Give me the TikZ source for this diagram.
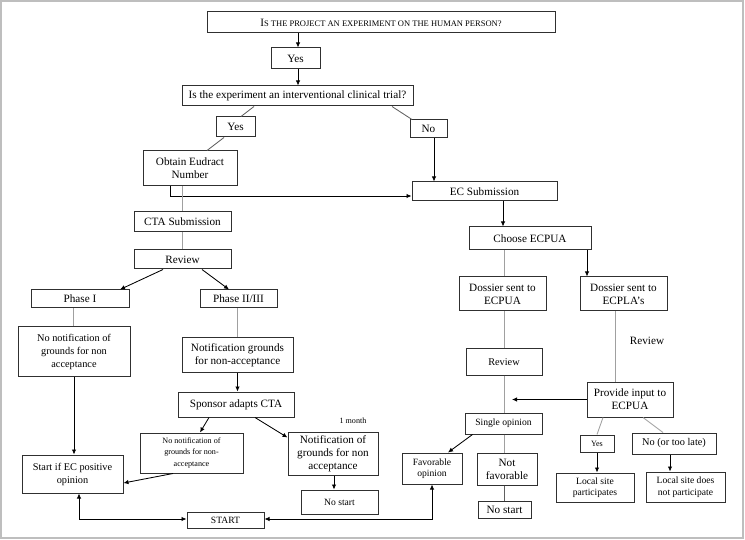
\documentclass[tikz,border=0pt]{standalone}
\usepackage{fontspec}
\setmainfont{Liberation Serif}
\usetikzlibrary{arrows.meta,calc}
\definecolor{boxc}{HTML}{303030}
\definecolor{lnc}{HTML}{A0A0A0}
\definecolor{dlnc}{HTML}{606060}
\definecolor{frm}{HTML}{BEBEBE}
\newcommand\flowbox[7]{\node[box,#6,minimum width={#4-#2},minimum height={#5-#3}] (#1) at ({(#2+#4)/2},{(#3+#5)/2}) {#7};}
\tikzset{
  fA/.style={font=\fontsize{11.2}{13}\selectfont},
  fB/.style={font=\fontsize{10.3}{13}\selectfont},
  fC/.style={font=\fontsize{9.6}{11.5}\selectfont},
  fD/.style={font=\fontsize{8.1}{11.5}\selectfont},
  box/.style={draw=boxc, line width=1pt, inner sep=0pt, align=center, fA},
  arr/.style={-{Latex[length=5pt,width=4.5pt]}, line width=0.85pt, black},
  arrtwo/.style={{Latex[length=5pt,width=4.5pt]}-{Latex[length=5pt,width=4.5pt]}, line width=0.85pt, black},
  ln/.style={line width=0.85pt, lnc},
  dln/.style={line width=0.85pt, dlnc}
}
\begin{document}
\begin{tikzpicture}[x=1pt,y=-1pt]
\useasboundingbox (0,0) rectangle (745,540);
\draw[frm, line width=2pt] (1,1) rectangle (743,538);
% nodes
\flowbox{q1}{207}{12}{555}{33}{}{{\fontsize{11.2}{13}\selectfont I}{\fontsize{8.5}{10}\selectfont S THE PROJECT AN EXPERIMENT ON THE HUMAN PERSON?}}
\flowbox{yes1}{271}{48}{320}{69}{}{Yes}
\flowbox{q2}{182}{86}{413}{106}{}{Is the experiment an interventional clinical trial?}
\flowbox{yes2}{216}{117}{255}{137}{}{Yes}
\flowbox{no}{410}{120}{447}{138}{}{No}
\flowbox{eud}{143}{151}{237}{186}{}{Obtain Eudract\\Number}
\flowbox{ecs}{412}{182}{557}{201}{}{EC Submission}
\flowbox{cta}{134}{212}{231}{232}{}{CTA Submission}
\flowbox{rev1}{134}{250}{231}{269}{}{Review}
\flowbox{cho}{469}{227}{591}{250}{}{Choose ECPUA}
\flowbox{ph1}{31}{290}{129}{308}{}{Phase I}
\flowbox{ph2}{200}{290}{277}{308}{}{Phase II/III}
\flowbox{dosu}{459}{277}{546}{311}{}{Dossier sent to\\ECPUA}
\flowbox{dosl}{580}{277}{667}{311}{}{Dossier sent to\\ECPLA’s}
\flowbox{nn1}{18}{327}{130}{376}{fB}{No notification of\\grounds for non\\acceptance}
\flowbox{ng1}{182}{338}{293}{372}{}{Notification grounds\\for non-acceptance}
\flowbox{rev2}{466}{349}{542}{375}{fB}{Review}
\node[fA] (revl) at (647,341) {Review};
\flowbox{spo}{178}{392}{294}{417}{}{Sponsor adapts CTA}
\flowbox{pro}{587}{382}{673}{417}{}{Provide input to\\ECPUA}
\flowbox{sin}{465}{413}{542}{434}{fC}{Single opinion}
\node[fD] (mon) at (353,421) {1 month};
\flowbox{nn2}{140}{433}{243}{473}{fD}{No notification of\\grounds for non-\\acceptance}
\flowbox{ng2}{288}{432}{378}{475}{}{Notification of\\grounds for non\\acceptance}
\flowbox{sif}{22}{455}{123}{493}{fB}{Start if EC positive\\opinion}
\flowbox{fav}{402}{453}{462}{484}{fC}{Favorable\\opinion}
\flowbox{nfav}{477}{453}{537}{485}{fA}{Not\\favorable}
\flowbox{yes3}{580}{435}{614}{452}{fD}{Yes}
\flowbox{nol}{632}{433}{716}{454}{fB}{No (or too late)}
\flowbox{lyes}{556}{473}{634}{502}{fC}{Local site\\participates}
\flowbox{lno}{646}{472}{725}{502}{fC}{Local site does\\not participate}
\flowbox{ns2}{478}{501}{531}{518}{fA}{No start}
\flowbox{ns1}{301}{490}{378}{514}{fC}{No start}
\flowbox{st}{187}{512}{264}{528}{fC}{START}
% helper coordinates
\coordinate (vx) at (504,0);
\coordinate (vxb) at (587,0);
\coordinate (vxc) at (615,0);
\coordinate (pin) at (512,399);
% connectors
\draw[arr] ([xshift=2.5pt]yes1.north |- q1.south) -- ([xshift=2.5pt]yes1.north);
\draw[arr] ([xshift=2.5pt]yes1.south) -- ([xshift=2.5pt]yes1.south |- q2.north);
\draw[dln] ([xshift=-43.5pt]q2.south) -- ([xshift=5.5pt]yes2.north);
\draw[dln] ([xshift=94.5pt]q2.south) -- ([xshift=-16.5pt]no.north);
\draw[dln] ([xshift=-11.5pt]yes2.south) -- ([xshift=17pt]eud.north);
\draw[arr] ([xshift=5.5pt]no.south) -- ([xshift=5.5pt]no.south |- ecs.north);
\draw[arr] ([xshift=-20pt]eud.south) |- ([yshift=-4.5pt]ecs.west);
\draw[ln] (eud.south -| cta.north) -- (cta.north);
\draw[ln] (cta.south) -- (rev1.north);
\draw[arr] ([xshift=-19.5pt]rev1.south) -- ([xshift=40pt]ph1.north);
\draw[arr] ([xshift=19.5pt]rev1.south) -- ([xshift=-9.5pt]ph2.north);
\draw[ln] ([xshift=-7pt]ph1.south) -- ([xshift=-7pt]ph1.south |- nn1.north);
\draw[ln] (ph2.south -| ng1.north) -- (ng1.north);
\draw[arr] (nn1.south) -- (nn1.south |- sif.north);
\draw[arr] (ng1.south) -- (ng1.south |- spo.north);
\draw[arr] ([xshift=-27pt]spo.south) -- ([xshift=8.5pt]nn2.north);
\draw[arr] ([xshift=19pt]spo.south) -- ([yshift=-6pt]ng2.north west);
\draw[arr] ([xshift=1pt]ng2.south) -- ([xshift=1pt]ng2.south |- ns1.north);
\draw[arr] ([xshift=-18.5pt]nn2.south) -- ([yshift=-9pt]sif.east);
\draw[arrtwo] ([xshift=6.5pt]sif.south) |- ([yshift=1pt]st.west);
\draw[arrtwo] (fav.south) |- ([yshift=1pt]st.east);
\draw[arr] ([xshift=18.5pt]ecs.south) -- ([xshift=18.5pt]ecs.south |- cho.north);
\draw[ln] (vx |- cho.south) -- (vx |- dosu.north);
\draw[arr] (vxb |- cho.south) -- (vxb |- dosl.north);
\draw[ln] (vx |- dosu.south) -- (vx |- rev2.north);
\draw[ln] (vxc |- dosl.south) -- (vxc |- pro.north);
\draw[ln] (vx |- rev2.south) -- (vx |- sin.north);
\draw[arr] (pro.west) -- (pro.west -| pin);
\draw[arr] ([xshift=8pt]sin.south west) -- ([xshift=16pt]fav.north);
\draw[ln] (vx |- sin.south) -- (vx |- nfav.north);
\draw[dln] (vx |- nfav.south) -- (vx |- ns2.north);
\draw[ln] ([xshift=-27pt]pro.south) -- (yes3.north);
\draw[ln] ([xshift=13pt]pro.south) -- ([xshift=-11pt]nol.north);
\draw[arr] (yes3.south) -- (yes3.south |- lyes.north);
\draw[arr] ([xshift=-4pt]nol.south) -- ([xshift=-4pt]nol.south |- lno.north);
\end{tikzpicture}
\end{document}
